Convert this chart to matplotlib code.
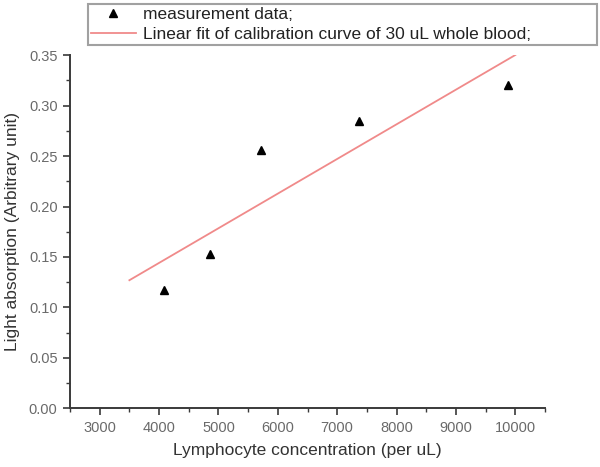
#!/usr/bin/env python3
"""Calibration curve: light absorption vs lymphocyte concentration."""

import matplotlib

matplotlib.use("Agg")
import matplotlib.pyplot as plt
from matplotlib.ticker import MultipleLocator

plt.rcParams["font.family"] = ["Liberation Sans", "DejaVu Sans"]

conc = [4080, 4850, 5720, 7370, 9880]
absorb = [0.117, 0.153, 0.256, 0.285, 0.320]

# end points of the linear fit line
fit_x = [3500, 10000]
fit_y = [0.127, 0.350]

AXIS_COLOR = "#3a3a3a"
TICK_TEXT = "#6a6a6a"

fig = plt.figure(figsize=(6.0, 4.67), dpi=100)
ax = fig.add_axes([0.1167, 0.1253, 0.7916, 0.7569])

ax.plot(conc, absorb, linestyle="none", marker="^", markersize=5.5,
        color="black", label="measurement data;")
ax.plot(fit_x, fit_y, color="#f08a8a", linewidth=1.3,
        label="Linear fit of calibration curve of 30 uL whole blood;")

ax.set_xlim(2500, 10500)
ax.set_ylim(0, 0.35)
ax.xaxis.set_major_locator(MultipleLocator(1000))
ax.xaxis.set_minor_locator(MultipleLocator(500))
ax.yaxis.set_major_locator(MultipleLocator(0.05))
ax.yaxis.set_minor_locator(MultipleLocator(0.025))
ax.yaxis.set_major_formatter(lambda v, _: f"{v:.2f}")

for side in ("top", "right"):
    ax.spines[side].set_visible(False)
for side in ("left", "bottom"):
    ax.spines[side].set_color(AXIS_COLOR)
    ax.spines[side].set_linewidth(1.4)

ax.tick_params(which="major", direction="out", length=5, width=1.2,
               color=AXIS_COLOR, labelcolor=TICK_TEXT, labelsize=10.5, pad=4)
ax.tick_params(which="minor", direction="out", length=3, width=1.0,
               color=AXIS_COLOR)

ax.set_xlabel("Lymphocyte concentration (per uL)", fontsize=12.5,
              color="#333333", labelpad=6)
ax.set_ylabel("Light absorption (Arbitrary unit)", fontsize=12.5,
              color="#333333", labelpad=6)

leg = fig.legend(
    loc="lower left",
    bbox_to_anchor=(0.147, 0.904, 0.848, 0.092),
    mode="expand",
    ncol=1,
    fontsize=12.5,
    frameon=True,
    fancybox=False,
    borderpad=0.15,
    labelspacing=0.3,
    handlelength=2.6,
    handletextpad=0.4,
    borderaxespad=0,
)
leg.get_frame().set_edgecolor("#8a8a8a")
leg.get_frame().set_linewidth(1.5)
for t in leg.get_texts():
    t.set_color("#222222")

fig.savefig("out.png", dpi=100, facecolor="white")
plt.close(fig)
